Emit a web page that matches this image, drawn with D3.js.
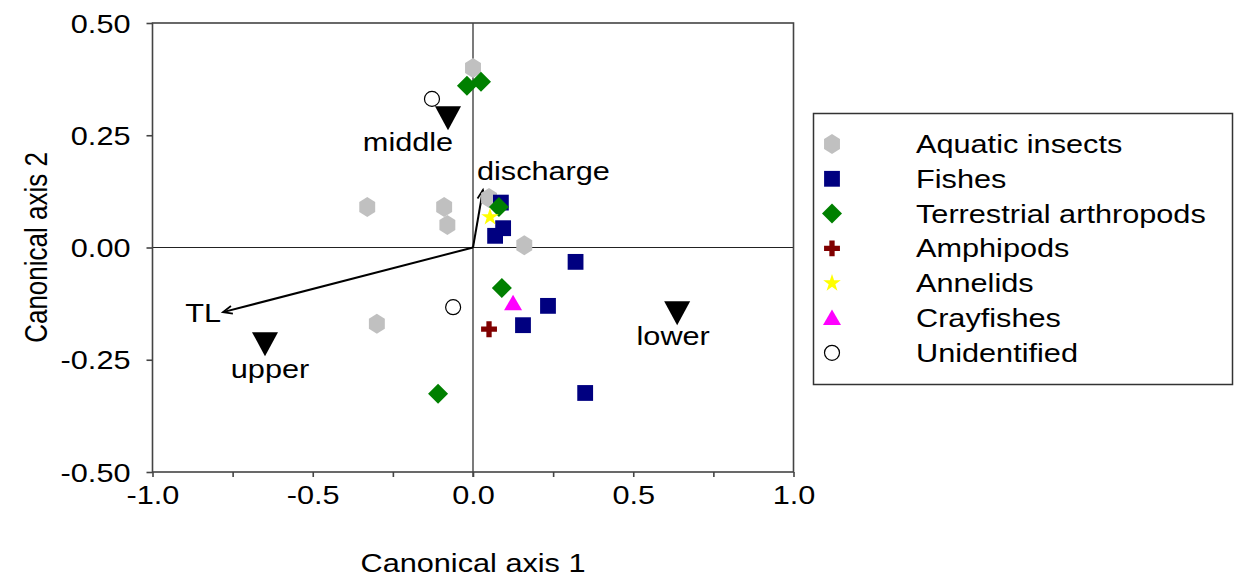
<!DOCTYPE html>
<html><head><meta charset="utf-8">
<script src="https://cdn.jsdelivr.net/npm/d3@7"></script>
<style>
body{margin:0;background:#fff}
svg{display:block}
text{font-family:"Liberation Sans",Arial,sans-serif;fill:#000}
</style></head><body>
<svg id="c" width="1243" height="579"></svg>
<script>
// ---- data ----
const groups = ["Aquatic insects","Fishes","Terrestrial arthropods","Amphipods","Annelids","Crayfishes","Unidentified"];
const aquaticInsects = [[0.00,0.40],[-0.33,0.09],[-0.09,0.09],[-0.08,0.05],[0.05,0.11],[0.16,0.005],[-0.30,-0.17]];
const fishes = [[0.087,0.10],[0.094,0.043],[0.069,0.026],[0.32,-0.032],[0.234,-0.13],[0.156,-0.173],[0.35,-0.324]];
const terrestrialArthropods = [[-0.019,0.36],[0.025,0.369],[0.081,0.09],[0.09,-0.09],[-0.109,-0.326]];
const amphipods = [[0.05,-0.182]];
const annelids = [[0.053,0.068]];
const crayfishes = [[0.125,-0.124]];
const unidentified = [[-0.128,0.331],[-0.062,-0.133]];
const sites = ["middle","upper","lower"];
const siteX = [-0.078,-0.649,0.637];
const siteY = [0.29,-0.213,-0.144];
const vectorNames = ["TL","discharge"];
const vectorX = [-0.78,0.031];
const vectorY = [-0.144,0.128];
const xTicks = [-1,-0.75,-0.5,-0.25,0,0.25,0.5,0.75,1];
const xTickLabels = ["-1.0","","-0.5","","0.0","","0.5","","1.0"];
const yTicks = [0.5,0.25,0,-0.25,-0.5];
const yTickLabels = ["0.50","0.25","0.00","-0.25","-0.50"];
const xTitle = "Canonical axis 1", yTitle = "Canonical axis 2";

// ---- styles ----
const SX = 1.18, FS = 26;
const groupData = [aquaticInsects,fishes,terrestrialArthropods,amphipods,annelids,crayfishes,unidentified];
const groupStyle = [
  {shape:"hex", fill:"#c0c0c0"},
  {shape:"square", fill:"#000080"},
  {shape:"diamond", fill:"#008000"},
  {shape:"cross", fill:"#800000"},
  {shape:"star", fill:"#ffff00"},
  {shape:"triangle", fill:"#ff00ff"},
  {shape:"circle", fill:"#ffffff", stroke:"#000"}
];
const siteLabelOffset = [[-40,34],[5,35],[-4,33]];
const vectorLabelStyle = [{anchor:"end",dx:-2,dy:10},{anchor:"start",dx:-6,dy:-10}];

const svg = d3.select("#c");
const x = d3.scaleLinear().domain([-1,1]).range([152.5,793.5]);
const y = d3.scaleLinear().domain([-0.5,0.5]).range([472,23]);

function shapePath(shape){
  const p = d3.path();
  if(shape==="hex"){
    const r = 10;
    for(let i=0;i<6;i++){const a=Math.PI/3*i - Math.PI/2; const px=r*Math.cos(a)*0.92, py=r*Math.sin(a); i?p.lineTo(px,py):p.moveTo(px,py);}
    p.closePath(); return p.toString();
  }
  if(shape==="square") return d3.symbol(d3.symbolSquare,250)();
  if(shape==="diamond") return d3.symbol(d3.symbolSquare,200)();
  if(shape==="cross") return d3.symbol(d3.symbolCross,140)();
  if(shape==="star") return d3.symbol(d3.symbolStar,95)();
  if(shape==="triangle"){ p.moveTo(0,-8.5); p.lineTo(9,7); p.lineTo(-9,7); p.closePath(); return p.toString(); }
  if(shape==="circle") return d3.symbol(d3.symbolCircle,Math.PI*7.5*7.5)();
}

// frame and zero lines
svg.append("line").attr("x1",x(0)).attr("x2",x(0)).attr("y1",y(0.5)).attr("y2",y(-0.5)+5).attr("stroke","#222").attr("stroke-width",1.2);
svg.append("line").attr("x1",x(-1)).attr("x2",x(1)).attr("y1",y(0)).attr("y2",y(0)).attr("stroke","#222").attr("stroke-width",1.2);
svg.append("rect").attr("x",x(-1)).attr("y",y(0.5)).attr("width",x(1)-x(-1)).attr("height",y(-0.5)-y(0.5))
  .attr("fill","none").attr("stroke","#444").attr("stroke-width",1.6);

// x axis
const xa = svg.append("g").attr("transform",`translate(0,${y(-0.5)})`)
  .call(d3.axisBottom(x).tickValues(xTicks).tickSize(5).tickFormat((d,i)=>xTickLabels[i]));
xa.select(".domain").remove();
xa.selectAll(".tick line").attr("stroke","#444").attr("stroke-width",1.6);
xa.selectAll(".tick text").attr("y",0).attr("dy",0).style("font-size",FS+"px").style("font-family","Liberation Sans, Arial")
  .attr("transform",`translate(0,32) scale(${SX},1)`).attr("fill","#000");

// y axis
const ya = svg.append("g").attr("transform",`translate(${x(-1)},0)`)
  .call(d3.axisLeft(y).tickValues(yTicks).tickSize(6).tickFormat((d,i)=>yTickLabels[i]));
ya.select(".domain").remove();
ya.selectAll(".tick line").attr("stroke","#444").attr("stroke-width",1.6);
ya.selectAll(".tick text").attr("x",0).attr("dy","0.35em").style("font-size",FS+"px").style("font-family","Liberation Sans, Arial")
  .attr("transform",`translate(-22,0) scale(${SX},1)`).attr("fill","#000");

// titles
svg.append("text").attr("transform",`translate(${(x(-1)+x(1))/2},572) scale(${SX},1)`)
  .attr("text-anchor","middle").style("font-size",FS+"px").text(xTitle);
svg.append("text").attr("transform",`translate(47,${y(0)}) scale(${SX},1) rotate(-90)`)
  .attr("text-anchor","middle").style("font-size",FS+"px").text(yTitle);

// vectors
vectorNames.forEach((n,i)=>{
  const x0=x(0), y0=y(0), x1=x(vectorX[i]), y1=y(vectorY[i]);
  const ang=Math.atan2(y1-y0,x1-x0), L=10, w=0.4;
  svg.append("line").attr("x1",x0).attr("y1",y0).attr("x2",x1).attr("y2",y1).attr("stroke","#000").attr("stroke-width",2);
  svg.append("path").attr("d",`M${x1-L*Math.cos(ang-w)},${y1-L*Math.sin(ang-w)}L${x1},${y1}L${x1-L*Math.cos(ang+w)},${y1-L*Math.sin(ang+w)}`)
    .attr("fill","none").attr("stroke","#000").attr("stroke-width",1.8);
  const st=vectorLabelStyle[i];
  svg.append("text").attr("transform",`translate(${x1+st.dx},${y1+st.dy}) scale(${SX},1)`)
    .attr("text-anchor",st.anchor).style("font-size",FS+"px").text(n);
});

// points
groups.forEach((g,gi)=>{
  const st=groupStyle[gi];
  svg.append("g").selectAll("path").data(groupData[gi]).join("path")
    .attr("d",shapePath(st.shape))
    .attr("transform",d=>`translate(${x(d[0])},${y(d[1])})`+(st.shape==="diamond"?" rotate(45)":""))
    .attr("fill",st.fill).attr("stroke",st.stroke||"none").attr("stroke-width",1.2);
});

// sites
sites.forEach((s,i)=>{
  const cx=x(siteX[i]), cy=y(siteY[i]);
  svg.append("path").attr("d",`M${cx-13},${cy-11}L${cx+13},${cy-11}L${cx},${cy+13}Z`).attr("fill","#000");
  svg.append("text").attr("transform",`translate(${cx+siteLabelOffset[i][0]},${cy+siteLabelOffset[i][1]}) scale(${SX},1)`)
    .attr("text-anchor","middle").style("font-size",FS+"px").text(s);
});

// legend
svg.append("rect").attr("x",813.5).attr("y",113.5).attr("width",419).attr("height",271)
  .attr("fill","#fff").attr("stroke","#333").attr("stroke-width",1.5);
groups.forEach((g,i)=>{
  const st=groupStyle[i], cy=144+34.8*i;
  svg.append("path").attr("d",shapePath(st.shape))
    .attr("transform",`translate(832,${cy})`+(st.shape==="diamond"?" rotate(45)":""))
    .attr("fill",st.fill).attr("stroke",st.stroke||"none").attr("stroke-width",1.2);
  svg.append("text").attr("transform",`translate(916,${cy+9}) scale(${SX},1)`)
    .style("font-size",FS+"px").text(g);
});
</script></body></html>
